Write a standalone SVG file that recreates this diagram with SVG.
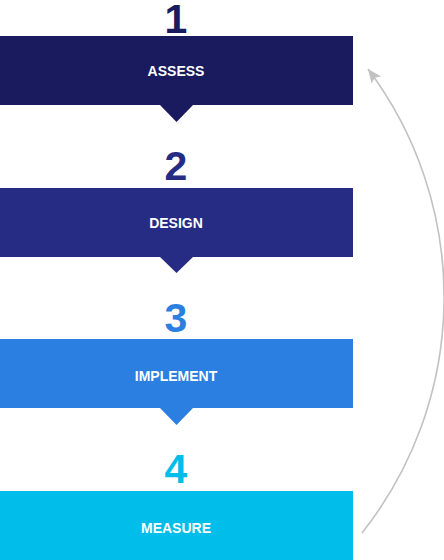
<svg xmlns="http://www.w3.org/2000/svg" width="444" height="560" viewBox="0 0 444 560">
<style>
.num{font-family:"Liberation Sans",Arial,sans-serif;font-weight:bold;font-size:41px;text-anchor:middle}
.lbl{font-family:"Liberation Sans",Arial,sans-serif;font-weight:bold;font-size:14px;fill:#ffffff;text-anchor:middle}
.conn{fill:none;stroke:#c2c2c2;stroke-width:1.6}
</style>
<defs>
<marker id="ah" markerUnits="userSpaceOnUse" markerWidth="16" markerHeight="14" refX="14" refY="6" orient="auto">
<path d="M0,0 L14,6 L0,12 L3,6 z" fill="#c2c2c2"/>
</marker>
</defs>
<rect width="444" height="560" fill="#ffffff"/>
<g id="step1">
<text class="num" x="176" y="33" fill="#191b5e">1</text>
<rect x="0" y="36" width="353" height="69" fill="#191b5e"/>
<polygon points="159,104 194,104 176.5,122" fill="#191b5e"/>
<text class="lbl" x="176" y="76">ASSESS</text>
</g>
<g id="step2">
<text class="num" x="176" y="180" fill="#262b83">2</text>
<rect x="0" y="188" width="353" height="69" fill="#262b83"/>
<polygon points="159,256 194,256 176.5,273" fill="#262b83"/>
<text class="lbl" x="176" y="228">DESIGN</text>
</g>
<g id="step3">
<text class="num" x="176" y="332" fill="#2b7fe0">3</text>
<rect x="0" y="339" width="353" height="69" fill="#2b7fe0"/>
<polygon points="159,407 194,407 176.5,425" fill="#2b7fe0"/>
<text class="lbl" x="176" y="381">IMPLEMENT</text>
</g>
<g id="step4">
<text class="num" x="176" y="483" fill="#00bde9">4</text>
<rect x="0" y="491" width="353" height="69" fill="#00bde9"/>
<text class="lbl" x="176" y="533">MEASURE</text>
</g>
<g id="connectors">
<path class="conn" d="M362,533 A380,380 0 0 0 368,69" marker-end="url(#ah)"/>
</g>
</svg>
